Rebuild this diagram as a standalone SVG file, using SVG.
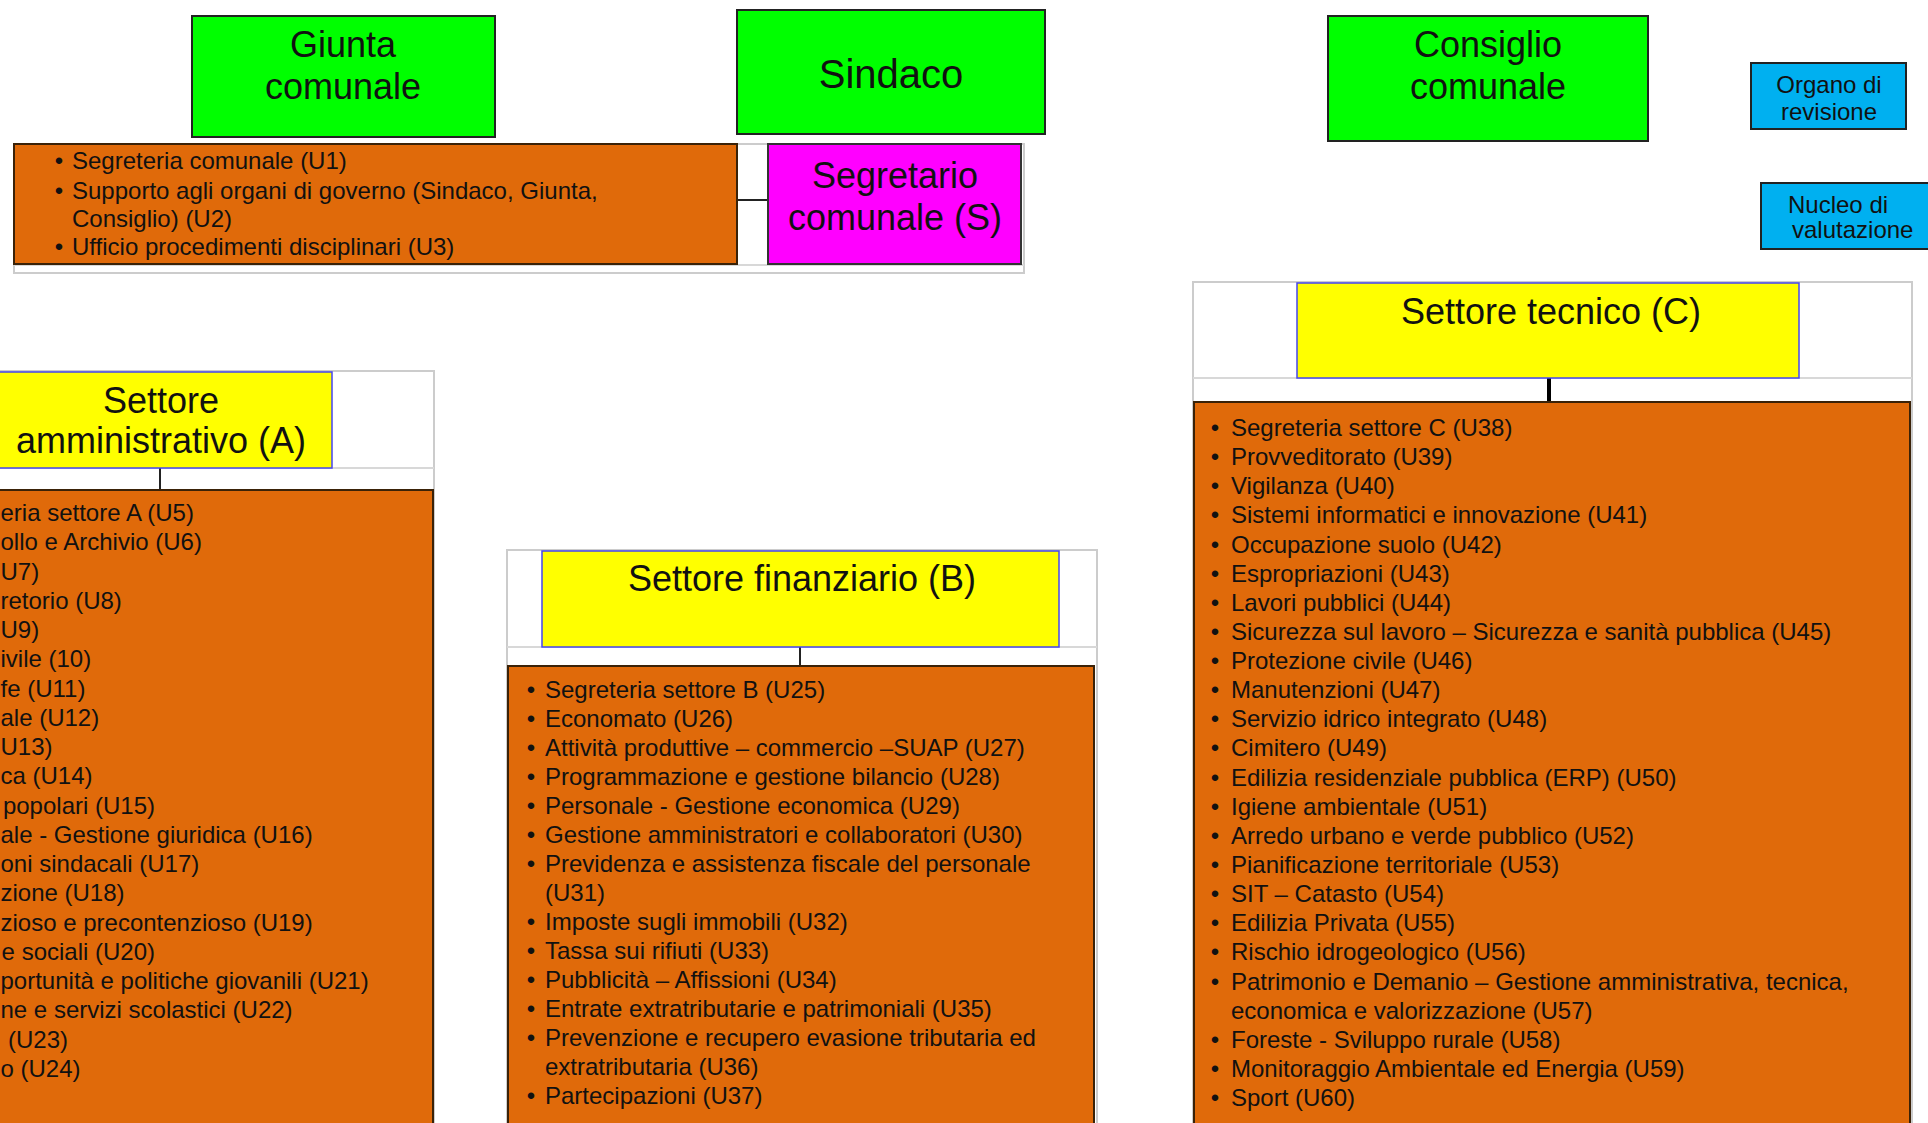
<svg xmlns="http://www.w3.org/2000/svg" width="1928" height="1123" viewBox="0 0 1928 1123">
<style>
text { font-family: "Liberation Sans", Arial, sans-serif; fill: #111; }
.h36 { font-size: 36px; text-anchor: middle; }
.h40 { font-size: 40px; text-anchor: middle; }
.s24 { font-size: 24px; text-anchor: middle; }
.li { font-size: 24px; }
.bu { font-size: 24px; text-anchor: middle; }
.fr { font-size: 24px; text-anchor: end; }
.green { fill: #00ff00; stroke: #222; stroke-width: 2; }
.blue { fill: #00b0f0; stroke: #222; stroke-width: 2; }
.mag { fill: #ff00ff; stroke: #333; stroke-width: 2; }
.orange { fill: #e06a0a; stroke: #3a2208; stroke-width: 2; }
.yellow { fill: #ffff00; stroke: #4646f0; stroke-width: 1.5; }
.frame { fill: #ffffff; stroke: #cccccc; stroke-width: 2; }
.grid { stroke: #d8d8d8; stroke-width: 2; fill: none; }
.conn { stroke: #222; stroke-width: 2; fill: none; }
</style>
<rect width="1928" height="1123" fill="#ffffff"/>

<!-- containers -->
<g id="frames">
  <rect class="frame" x="14" y="144" width="1010" height="129"/>
  <line class="grid" x1="14" y1="265" x2="1024" y2="265"/>
  <rect class="frame" x="-10" y="371" width="444" height="780"/>
  <line class="grid" x1="-10" y1="468" x2="434" y2="468"/>
  <rect class="frame" x="507" y="550" width="590" height="600"/>
  <line class="grid" x1="507" y1="647" x2="1097" y2="647"/>
  <rect class="frame" x="1193" y="282" width="719" height="860"/>
  <line class="grid" x1="1193" y1="378" x2="1912" y2="378"/>
</g>

<g id="connectors">
  <line class="conn" x1="737" y1="200" x2="768" y2="200"/>
  <line class="conn" x1="160" y1="468" x2="160" y2="490"/>
  <line class="conn" x1="800" y1="647" x2="800" y2="666"/>
  <line class="conn" x1="1549" y1="378" x2="1549" y2="402" style="stroke:#000;stroke-width:4"/>
</g>

<g id="giunta">
  <rect class="green" x="192" y="16" width="303" height="121"/>
  <text class="h36" x="343" y="57">Giunta</text>
  <text class="h36" x="343" y="99">comunale</text>
</g>

<g id="sindaco">
  <rect class="green" x="737" y="10" width="308" height="124"/>
  <text class="h40" x="891" y="88">Sindaco</text>
</g>

<g id="consiglio">
  <rect class="green" x="1328" y="16" width="320" height="125"/>
  <text class="h36" x="1488" y="57">Consiglio</text>
  <text class="h36" x="1488" y="99">comunale</text>
</g>

<g id="organo-revisione">
  <rect class="blue" x="1751" y="63" width="155" height="66"/>
  <text class="s24" x="1829" y="93">Organo di</text>
  <text class="s24" x="1829" y="120">revisione</text>
</g>

<g id="nucleo-valutazione">
  <rect class="blue" x="1761" y="183" width="180" height="66"/>
  <text class="li" x="1788" y="213">Nucleo di</text>
  <text class="li" x="1792" y="238">valutazione</text>
</g>

<g id="uffici-segreteria">
  <rect class="orange" x="14" y="144" width="723" height="120"/>
  <text class="bu" x="59" y="169">•</text><text class="li" x="72" y="169">Segreteria comunale (U1)</text>
  <text class="bu" x="59" y="199">•</text><text class="li" x="72" y="199">Supporto agli organi di governo (Sindaco, Giunta,</text>
  <text class="li" x="72" y="227">Consiglio) (U2)</text>
  <text class="bu" x="59" y="255">•</text><text class="li" x="72" y="255">Ufficio procedimenti disciplinari (U3)</text>
</g>

<g id="segretario">
  <rect class="mag" x="768" y="144" width="253" height="120"/>
  <text class="h36" x="895" y="188">Segretario</text>
  <text class="h36" x="895" y="230">comunale (S)</text>
</g>

<g id="settore-a">
  <rect class="yellow" x="-10" y="372" width="342" height="96"/>
  <text class="h36" x="161" y="413">Settore</text>
  <text class="h36" x="161" y="453">amministrativo (A)</text>
</g>

<g id="uffici-a">
  <rect class="orange" x="-10" y="490" width="443" height="660"/>
  <text class="li" x="0.5" y="521">eria settore A (U5)</text>
  <text class="li" x="0.5" y="550">ollo e Archivio (U6)</text>
  <text class="li" x="0.5" y="580">U7)</text>
  <text class="li" x="0.5" y="609">retorio (U8)</text>
  <text class="li" x="0.5" y="638">U9)</text>
  <text class="li" x="0.5" y="667">ivile (10)</text>
  <text class="li" x="0.5" y="697">fe (U11)</text>
  <text class="li" x="0.5" y="726">ale (U12)</text>
  <text class="li" x="0.5" y="755">U13)</text>
  <text class="li" x="0.5" y="784">ca (U14)</text>
  <text class="fr" x="155" y="814">popolari (U15)</text>
  <text class="li" x="0.5" y="843">ale - Gestione giuridica (U16)</text>
  <text class="li" x="0.5" y="872">oni sindacali (U17)</text>
  <text class="li" x="0.5" y="901">zione (U18)</text>
  <text class="li" x="0.5" y="931">zioso e precontenzioso (U19)</text>
  <text class="fr" x="155" y="960">e sociali (U20)</text>
  <text class="li" x="0.5" y="989">portunità e politiche giovanili (U21)</text>
  <text class="li" x="0.5" y="1018">ne e servizi scolastici (U22)</text>
  <text class="fr" x="68" y="1048">(U23)</text>
  <text class="li" x="0.5" y="1077">o (U24)</text>
</g>

<g id="settore-b">
  <rect class="yellow" x="542" y="551" width="517" height="96"/>
  <text class="h36" x="802" y="591">Settore finanziario (B)</text>
</g>

<g id="uffici-b">
  <rect class="orange" x="508" y="666" width="586" height="480"/>
  <g>
  <text class="bu" x="531" y="698">•</text><text class="li" x="545" y="698">Segreteria settore B (U25)</text>
  <text class="bu" x="531" y="727">•</text><text class="li" x="545" y="727">Economato (U26)</text>
  <text class="bu" x="531" y="756">•</text><text class="li" x="545" y="756">Attività produttive – commercio –SUAP (U27)</text>
  <text class="bu" x="531" y="785">•</text><text class="li" x="545" y="785">Programmazione e gestione bilancio (U28)</text>
  <text class="bu" x="531" y="814">•</text><text class="li" x="545" y="814">Personale - Gestione economica (U29)</text>
  <text class="bu" x="531" y="843">•</text><text class="li" x="545" y="843">Gestione amministratori e collaboratori (U30)</text>
  <text class="bu" x="531" y="872">•</text><text class="li" x="545" y="872">Previdenza e assistenza fiscale del personale</text>
  <text class="li" x="545" y="901">(U31)</text>
  <text class="bu" x="531" y="930">•</text><text class="li" x="545" y="930">Imposte sugli immobili (U32)</text>
  <text class="bu" x="531" y="959">•</text><text class="li" x="545" y="959">Tassa sui rifiuti (U33)</text>
  <text class="bu" x="531" y="988">•</text><text class="li" x="545" y="988">Pubblicità – Affissioni (U34)</text>
  <text class="bu" x="531" y="1017">•</text><text class="li" x="545" y="1017">Entrate extratributarie e patrimoniali (U35)</text>
  <text class="bu" x="531" y="1046">•</text><text class="li" x="545" y="1046">Prevenzione e recupero evasione tributaria ed</text>
  <text class="li" x="545" y="1075">extratributaria (U36)</text>
  <text class="bu" x="531" y="1104">•</text><text class="li" x="545" y="1104">Partecipazioni (U37)</text>
  </g>
</g>

<g id="settore-c">
  <rect class="yellow" x="1297" y="283" width="502" height="95"/>
  <text class="h36" x="1551" y="324">Settore tecnico (C)</text>
</g>

<g id="uffici-c">
  <rect class="orange" x="1194" y="402" width="716" height="740"/>
  <text class="bu" x="1215" y="436">•</text><text class="li" x="1231" y="436">Segreteria settore C (U38)</text>
  <text class="bu" x="1215" y="465">•</text><text class="li" x="1231" y="465">Provveditorato (U39)</text>
  <text class="bu" x="1215" y="494">•</text><text class="li" x="1231" y="494">Vigilanza (U40)</text>
  <text class="bu" x="1215" y="523">•</text><text class="li" x="1231" y="523">Sistemi informatici e innovazione (U41)</text>
  <text class="bu" x="1215" y="553">•</text><text class="li" x="1231" y="553">Occupazione suolo (U42)</text>
  <text class="bu" x="1215" y="582">•</text><text class="li" x="1231" y="582">Espropriazioni (U43)</text>
  <text class="bu" x="1215" y="611">•</text><text class="li" x="1231" y="611">Lavori pubblici (U44)</text>
  <text class="bu" x="1215" y="640">•</text><text class="li" x="1231" y="640">Sicurezza sul lavoro – Sicurezza e sanità pubblica (U45)</text>
  <text class="bu" x="1215" y="669">•</text><text class="li" x="1231" y="669">Protezione civile (U46)</text>
  <text class="bu" x="1215" y="698">•</text><text class="li" x="1231" y="698">Manutenzioni (U47)</text>
  <text class="bu" x="1215" y="727">•</text><text class="li" x="1231" y="727">Servizio idrico integrato (U48)</text>
  <text class="bu" x="1215" y="756">•</text><text class="li" x="1231" y="756">Cimitero (U49)</text>
  <text class="bu" x="1215" y="786">•</text><text class="li" x="1231" y="786">Edilizia residenziale pubblica (ERP) (U50)</text>
  <text class="bu" x="1215" y="815">•</text><text class="li" x="1231" y="815">Igiene ambientale (U51)</text>
  <text class="bu" x="1215" y="844">•</text><text class="li" x="1231" y="844">Arredo urbano e verde pubblico (U52)</text>
  <text class="bu" x="1215" y="873">•</text><text class="li" x="1231" y="873">Pianificazione territoriale (U53)</text>
  <text class="bu" x="1215" y="902">•</text><text class="li" x="1231" y="902">SIT – Catasto (U54)</text>
  <text class="bu" x="1215" y="931">•</text><text class="li" x="1231" y="931">Edilizia Privata (U55)</text>
  <text class="bu" x="1215" y="960">•</text><text class="li" x="1231" y="960">Rischio idrogeologico (U56)</text>
  <text class="bu" x="1215" y="990">•</text><text class="li" x="1231" y="990">Patrimonio e Demanio – Gestione amministrativa, tecnica,</text>
  <text class="li" x="1231" y="1019">economica e valorizzazione (U57)</text>
  <text class="bu" x="1215" y="1048">•</text><text class="li" x="1231" y="1048">Foreste - Sviluppo rurale (U58)</text>
  <text class="bu" x="1215" y="1077">•</text><text class="li" x="1231" y="1077">Monitoraggio Ambientale ed Energia (U59)</text>
  <text class="bu" x="1215" y="1106">•</text><text class="li" x="1231" y="1106">Sport (U60)</text>
</g>
</svg>
